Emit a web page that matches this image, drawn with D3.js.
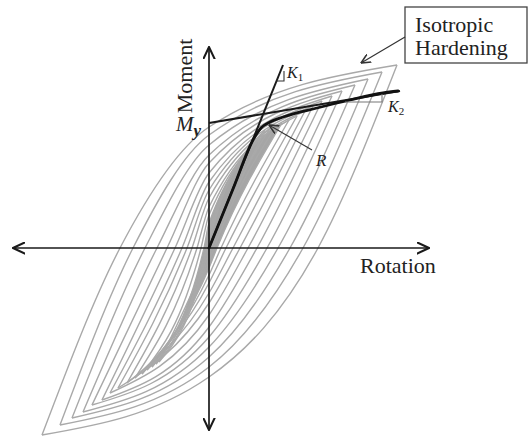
<!DOCTYPE html>
<html>
<head>
<meta charset="utf-8">
<script src="https://cdn.jsdelivr.net/npm/d3@7"></script>
<style>
  html, body { margin: 0; padding: 0; background: #fff; }
  svg { display: block; }
  text { font-family: "Liberation Serif", "Times New Roman", serif; fill: #222; }
</style>
</head>
<body>
<svg id="chart" width="529" height="438"></svg>
<script>
// ---- data (rotation / moment in arbitrary units) ----
const loopPeakRot    = [188, 173, 159, 146, 133, 123, 113, 104, 96, 88, 80, 73, 67, 61, 56];
const loopPeakMom    = [183, 176, 169, 163, 157, 152, 147, 142, 137, 132, 128, 125, 122, 120, 118];
const loopTroughRot  = [-167, -149, -137, -126, -117, -107, -99, -91, -82, -74, -67, -62, -57, -53, -50];
const loopTroughMom  = [-187, -177, -170, -164, -157, -152, -145, -140, -135, -130, -126, -122, -119, -116, -114];
const upperZeroRot   = [-89, -76, -64, -52, -42, -34, -27, -22, -17, -12, -8, -5, -3, -2, -1];
const upperZeroMom   = [121, 113, 103, 93, 85, 75, 66, 58, 50, 41, 33, 25, 18, 12, 6];
const lowerZeroRot   = [109, 94, 81, 69, 58, 48, 39, 31, 24, 17, 12, 8, 5, 3, 2];
const lowerZeroMom   = [-129, -119, -109, -99, -89, -79, -67, -55, -45, -35, -27, -20, -14, -9, -5];
const filledLoops    = [false, false, false, false, false, false, false, false, false, false, false, true, false, false, false];

const backboneRot = [0, 24, 44, 52, 61, 74, 108, 141, 174, 189];
const backboneMom = [0, 59, 108, 120, 126, 131, 140, 148, 155, 157];

const k1Rot = [0, 74];
const k1Mom = [0, 183];
const k2Rot = [0, 191];
const k2Mom = [125, 157];

const axisRotRange = [-196, 220];
const axisMomRange = [-182, 201];

const labels = {
  xAxis: "Rotation", yAxis: "Moment", my: "M", mySub: "y",
  k1: "K", k1Sub: "1", k2: "K", k2Sub: "2", r: "R",
  box: ["Isotropic", "Hardening"]
};

// ---- scales ----
const x = d3.scaleLinear().domain(axisRotRange).range([13, 429]);
const y = d3.scaleLinear().domain(axisMomRange).range([430, 47]);

const svg = d3.select("#chart");
const defs = svg.append("defs");
function marker(id, color, size) {
  defs.append("marker")
    .attr("id", id).attr("markerUnits", "userSpaceOnUse")
    .attr("viewBox", "0 0 10 10").attr("refX", 9.5).attr("refY", 5)
    .attr("markerWidth", size).attr("markerHeight", size).attr("orient", "auto")
    .append("path").attr("d", "M0,0.5 L9.5,5 L0,9.5")
    .attr("fill", "none").attr("stroke", color).attr("stroke-width", 1.6)
    .attr("stroke-linejoin", "miter");
}
marker("arrAxis", "#1a1a1a", 13);
marker("arrSmall", "#333", 10);

const line = d3.line().x(d => x(d[0])).y(d => y(d[1])).curve(d3.curveMonotoneX);

// ---- hysteresis loops ----
const gLoops = svg.append("g");
const n = loopPeakRot.length;
for (let i = 0; i < n; i++) {
  const upper = [[loopTroughRot[i], loopTroughMom[i]], [upperZeroRot[i], 0], [0, upperZeroMom[i]], [loopPeakRot[i], loopPeakMom[i]]];
  const lower = [[loopTroughRot[i], loopTroughMom[i]], [0, lowerZeroMom[i]], [lowerZeroRot[i], 0], [loopPeakRot[i], loopPeakMom[i]]];
  if (filledLoops[i]) {
    gLoops.append("path")
      .attr("d", line(upper) + "L" + line(lower.slice().reverse()).slice(1) + "Z")
      .attr("fill", "#a6a6a6").attr("stroke", "none");
  }
  gLoops.append("path").attr("d", line(upper))
    .attr("fill", "none").attr("stroke", "#a9a9a9").attr("stroke-width", 1.4);
  gLoops.append("path").attr("d", line(lower))
    .attr("fill", "none").attr("stroke", "#a9a9a9").attr("stroke-width", 1.4);
}

// ---- axes ----
const x0 = x(0), y0 = y(0);
svg.append("line").attr("x1", x(0)).attr("y1", y0).attr("x2", x(axisRotRange[0])).attr("y2", y0)
  .attr("stroke", "#1a1a1a").attr("stroke-width", 1.7).attr("marker-end", "url(#arrAxis)");
svg.append("line").attr("x1", x(0)).attr("y1", y0).attr("x2", x(axisRotRange[1])).attr("y2", y0)
  .attr("stroke", "#1a1a1a").attr("stroke-width", 1.7).attr("marker-end", "url(#arrAxis)");
svg.append("line").attr("x1", x0).attr("y1", y(0)).attr("x2", x0).attr("y2", y(axisMomRange[0]))
  .attr("stroke", "#1a1a1a").attr("stroke-width", 1.7).attr("marker-end", "url(#arrAxis)");
svg.append("line").attr("x1", x0).attr("y1", y(0)).attr("x2", x0).attr("y2", y(axisMomRange[1]))
  .attr("stroke", "#1a1a1a").attr("stroke-width", 1.7).attr("marker-end", "url(#arrAxis)");

// ---- K1, K2 lines ----
const straight = d3.line().x(d => x(d[0])).y(d => y(d[1]));
svg.append("path").attr("d", straight(k1Rot.map((r, i) => [r, k1Mom[i]])))
  .attr("fill", "none").attr("stroke", "#1a1a1a").attr("stroke-width", 2);
svg.append("path").attr("d", straight(k2Rot.map((r, i) => [r, k2Mom[i]])))
  .attr("fill", "none").attr("stroke", "#1a1a1a").attr("stroke-width", 2);

// backbone
svg.append("path").attr("d", line(backboneRot.map((r, i) => [r, backboneMom[i]])))
  .attr("fill", "none").attr("stroke", "#111").attr("stroke-width", 2.8)
  .attr("stroke-linecap", "round");

// slope triangles
const k1Slope = k1Mom[1] / k1Rot[1];
const k1TriMom = 167, k1TriRot2 = 75;
svg.append("path")
  .attr("d", straight([[k1TriMom / k1Slope, k1TriMom], [k1TriRot2, k1TriMom], [k1TriRot2, 177]]))
  .attr("fill", "none").attr("stroke", "#333").attr("stroke-width", 1.1);
const k2TriMom = 146, k2TriRot1 = 136, k2TriRot2 = 173;
const k2At = r => k2Mom[0] + (k2Mom[1] - k2Mom[0]) * r / k2Rot[1];
svg.append("path")
  .attr("d", straight([[k2TriRot1, k2TriMom], [k2TriRot2, k2TriMom], [k2TriRot2, k2At(k2TriRot2)]]))
  .attr("fill", "none").attr("stroke", "#777").attr("stroke-width", 1.1);

// ---- labels ----
svg.append("text").attr("x", 360).attr("y", 273).attr("font-size", 22).text(labels.xAxis);
svg.append("text").attr("transform", "translate(192,76) rotate(-90)")
  .attr("text-anchor", "middle").attr("font-size", 22).text(labels.yAxis);

const myT = svg.append("text").attr("x", 176).attr("y", 131).attr("font-size", 21).attr("font-style", "italic");
myT.append("tspan").text(labels.my);
myT.append("tspan").attr("dy", 5).attr("font-size", 17).attr("font-weight", "bold").text(labels.mySub);

const k1T = svg.append("text").attr("x", 287).attr("y", 78).attr("font-size", 16).attr("font-style", "italic");
k1T.append("tspan").text(labels.k1);
k1T.append("tspan").attr("dy", 3).attr("font-size", 11).attr("font-style", "normal").text(labels.k1Sub);

const k2T = svg.append("text").attr("x", 388).attr("y", 112).attr("font-size", 16).attr("font-style", "italic");
k2T.append("tspan").text(labels.k2);
k2T.append("tspan").attr("dy", 3).attr("font-size", 11).attr("font-style", "normal").text(labels.k2Sub);

svg.append("text").attr("x", 316).attr("y", 166).attr("font-size", 17).attr("font-style", "italic").text(labels.r);
// R pointer
svg.append("line").attr("x1", x(103)).attr("y1", y(98)).attr("x2", x(60)).attr("y2", y(123))
  .attr("stroke", "#333").attr("stroke-width", 1.1).attr("marker-end", "url(#arrSmall)");

// Isotropic hardening box
svg.append("rect").attr("x", 405).attr("y", 7).attr("width", 122).attr("height", 56)
  .attr("fill", "#fff").attr("stroke", "#444").attr("stroke-width", 1.3);
svg.append("text").attr("x", 415).attr("y", 32).attr("font-size", 22).text(labels.box[0]);
svg.append("text").attr("x", 415).attr("y", 55).attr("font-size", 22).text(labels.box[1]);
svg.append("line").attr("x1", 405).attr("y1", 37).attr("x2", 361).attr("y2", 63)
  .attr("stroke", "#333").attr("stroke-width", 1.2).attr("marker-end", "url(#arrSmall)");
</script>
</body>
</html>
